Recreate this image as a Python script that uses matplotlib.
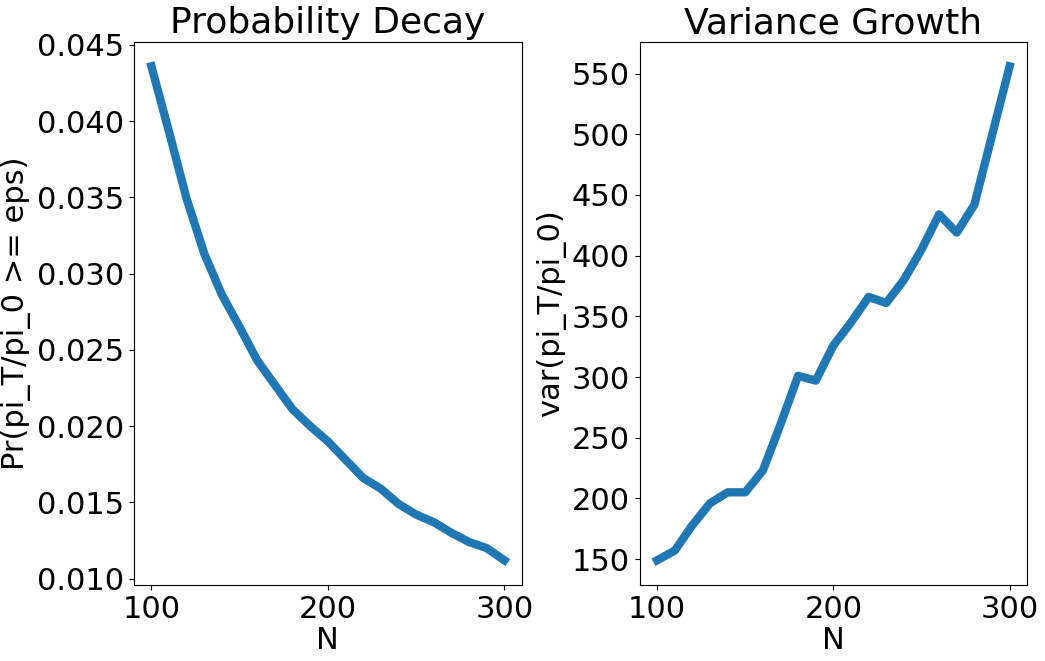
import matplotlib
matplotlib.use("Agg")
import matplotlib.pyplot as plt

N = [100, 110, 120, 130, 140, 150, 160, 170, 180, 190, 200,
     210, 220, 230, 240, 250, 260, 270, 280, 290, 300]

prob = [0.0436, 0.0393, 0.0349, 0.0313, 0.0286, 0.0265, 0.0243, 0.0227,
        0.0211, 0.0200, 0.0190, 0.0178, 0.0166, 0.0159, 0.0149, 0.0142,
        0.0137, 0.0130, 0.0124, 0.0120, 0.0112]

var = [149, 157, 178, 196, 205, 205, 223, 261, 301, 297, 326,
       345, 366, 361, 380, 405, 434, 419, 442, 499, 556]

plt.rcParams['font.size'] = 22

fig = plt.figure(figsize=(10.45, 6.61), dpi=100)

ax1 = fig.add_axes([0.128, 0.115, 0.3715, 0.822])
ax1.plot(N, prob, color='#1f77b4', linewidth=6)
ax1.set_title("Probability Decay", fontsize=26)
ax1.set_xlabel("N", labelpad=2)
ax1.set_ylabel("Pr(pi_T/pi_0 >= eps)")
ax1.set_yticks([0.010, 0.015, 0.020, 0.025, 0.030, 0.035, 0.040, 0.045])

ax2 = fig.add_axes([0.612, 0.115, 0.371, 0.822])
ax2.plot(N, var, color='#1f77b4', linewidth=6)
ax2.set_title("Variance Growth", fontsize=26)
ax2.set_xlabel("N", labelpad=2)
ax2.set_ylabel("var(pi_T/pi_0)")
ax2.set_yticks([150, 200, 250, 300, 350, 400, 450, 500, 550])

fig.savefig("out.png", dpi=100)
